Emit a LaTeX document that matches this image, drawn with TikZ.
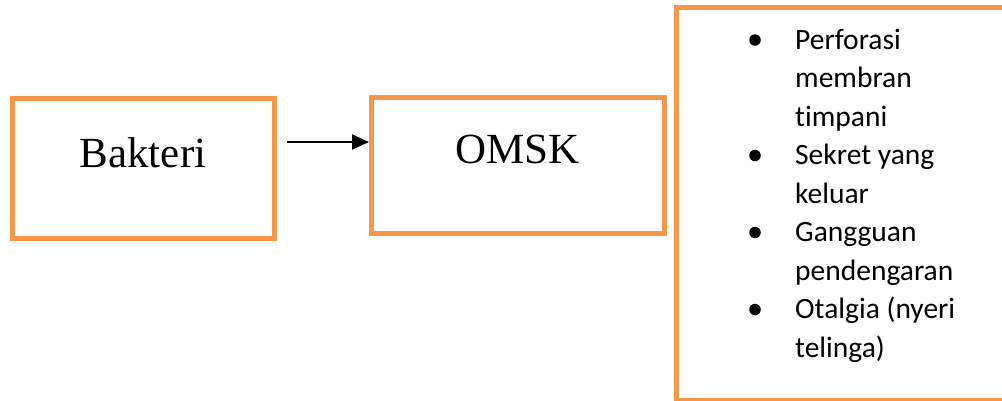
\documentclass[tikz,border=0pt]{standalone}
\usepackage{fontspec}
\setmainfont{Liberation Serif}
\newfontfamily\calib[Ligatures={NoCommon,NoRare,NoContextual}]{Carlito}
\usetikzlibrary{arrows.meta}
\definecolor{boxorange}{HTML}{F79646}
\tikzset{
  box/.style={draw=boxorange, line width=5pt, minimum width=#1, inner sep=0pt},
  bigtext/.style={font=\fontsize{43}{50}\selectfont, anchor=base, inner sep=0pt},
  itemtext/.style={font=\calib\fontsize{29.5}{34}\selectfont, anchor=base west, inner sep=0pt},
  dot/.style={circle, fill=black, minimum size=11.5pt, inner sep=0pt}
}
\begin{document}
\begin{tikzpicture}[x=1pt,y=-1pt]
\useasboundingbox (0,0) rectangle (1002,400);
\clip (0,0) rectangle (1002,400);
% boxes
\node[box=262pt, minimum height=140pt] (bakteri) at (143.5,168.5) {};
\node[box=293pt, minimum height=136pt] (omsk) at (518,165.5) {};
\node[box=340pt, minimum height=393pt] (gejala) at (846.5,204) {};
% labels
\node[bigtext] (tb) at (143,167) {Bakteri};
\node[bigtext] (to) at (517.5,163) {OMSK};
% arrow
\coordinate (start) at (287,142);
\draw[line width=2pt, -{Triangle[length=17pt,width=15pt]}] (start) -- (omsk.west |- start);
% list
\foreach \name/\y/\t in {l1/49/Perforasi, l2/87.5/membran, l3/126/timpani, l4/164.5/Sekret yang, l5/203/keluar, l6/241.5/Gangguan, l7/280/pendengaran, l8/318.5/Otalgia (nyeri, l9/357/telinga)}{
  \node[itemtext] (\name) at (795,\y) {\t};
}
\foreach \name/\y in {d1/40, d2/155.5, d3/232.5, d4/309.5}{
  \node[dot] (\name) at (755,\y) {};
}
\end{tikzpicture}
\end{document}
